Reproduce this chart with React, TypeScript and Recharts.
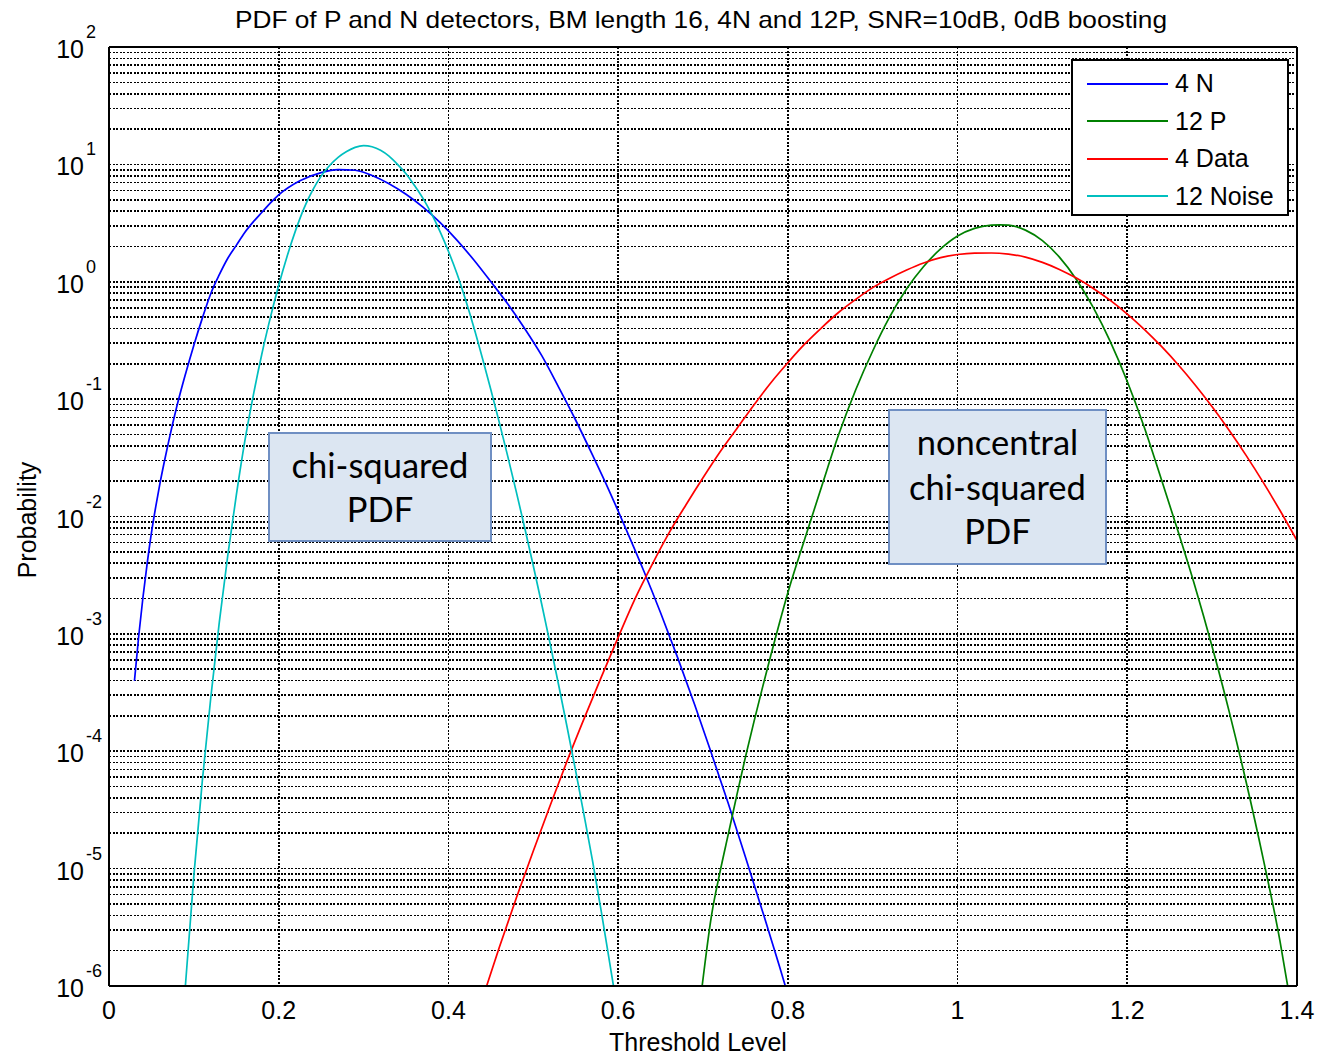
import { CartesianGrid, Line, LineChart, ReferenceLine, XAxis, YAxis } from "recharts";

// threshold level (x) and log10(probability)
const nX = [0.03, 0.035, 0.04, 0.045, 0.05, 0.055, 0.06, 0.065, 0.07, 0.075, 0.08, 0.09, 0.1, 0.11, 0.12, 0.13, 0.14, 0.15, 0.16, 0.17, 0.18, 0.19, 0.2, 0.225, 0.25, 0.27, 0.29, 0.31, 0.33, 0.35, 0.37, 0.39, 0.41, 0.43, 0.45, 0.47, 0.49, 0.51, 0.53, 0.55, 0.57, 0.59, 0.61, 0.63, 0.65, 0.67, 0.69, 0.71, 0.73, 0.75, 0.77, 0.79, 0.797];
const nLog = [-3.4, -3.02, -2.69, -2.4, -2.14, -1.92, -1.72, -1.54, -1.37, -1.21, -1.06, -0.79, -0.54, -0.31, -0.1, 0.06, 0.2, 0.31, 0.42, 0.51, 0.59, 0.67, 0.74, 0.86, 0.93, 0.955, 0.95, 0.905, 0.835, 0.745, 0.635, 0.505, 0.355, 0.185, 0.0, -0.19, -0.4, -0.63, -0.9, -1.18, -1.48, -1.79, -2.12, -2.46, -2.82, -3.2, -3.6, -4.02, -4.45, -4.9, -5.36, -5.83, -6.0];

const pX = [0.699, 0.71, 0.72, 0.73, 0.74, 0.75, 0.76, 0.77, 0.78, 0.79, 0.8, 0.82, 0.84, 0.86, 0.88, 0.9, 0.92, 0.94, 0.96, 0.98, 1.0, 1.02, 1.04, 1.05, 1.06, 1.08, 1.1, 1.12, 1.14, 1.16, 1.18, 1.2, 1.22, 1.24, 1.26, 1.28, 1.3, 1.32, 1.34, 1.36, 1.38, 1.389];
const pLog = [-6.0, -5.4, -5.03, -4.7, -4.37, -4.05, -3.75, -3.46, -3.18, -2.91, -2.65, -2.19, -1.74, -1.3, -0.92, -0.59, -0.3, -0.06, 0.13, 0.28, 0.39, 0.455, 0.482, 0.485, 0.482, 0.44, 0.35, 0.21, 0.02, -0.22, -0.51, -0.85, -1.24, -1.68, -2.13, -2.6, -3.11, -3.66, -4.26, -4.91, -5.62, -6.0];

const dataX = [0.445, 0.46, 0.48, 0.5, 0.52, 0.54, 0.56, 0.58, 0.6, 0.62, 0.64, 0.66, 0.68, 0.7, 0.72, 0.74, 0.76, 0.78, 0.8, 0.82, 0.84, 0.86, 0.88, 0.9, 0.92, 0.94, 0.96, 0.98, 1.0, 1.02, 1.04, 1.06, 1.08, 1.1, 1.12, 1.14, 1.16, 1.18, 1.2, 1.22, 1.24, 1.26, 1.28, 1.3, 1.32, 1.34, 1.36, 1.38, 1.4];
const dataLog = [-6.0, -5.67, -5.25, -4.85, -4.46, -4.08, -3.72, -3.37, -3.03, -2.7, -2.41, -2.14, -1.9, -1.67, -1.45, -1.25, -1.05, -0.86, -0.69, -0.53, -0.39, -0.26, -0.15, -0.05, 0.03, 0.1, 0.16, 0.205, 0.232, 0.244, 0.245, 0.235, 0.21, 0.165, 0.105, 0.031, -0.057, -0.159, -0.275, -0.405, -0.549, -0.707, -0.879, -1.065, -1.265, -1.479, -1.707, -1.949, -2.205];

const noiseX = [0.09, 0.1, 0.11, 0.12, 0.13, 0.14, 0.15, 0.16, 0.17, 0.18, 0.19, 0.2, 0.21, 0.22, 0.23, 0.24, 0.25, 0.26, 0.27, 0.28, 0.29, 0.3, 0.31, 0.32, 0.33, 0.34, 0.35, 0.36, 0.37, 0.38, 0.39, 0.4, 0.41, 0.42, 0.43, 0.44, 0.45, 0.46, 0.47, 0.48, 0.49, 0.5, 0.51, 0.52, 0.53, 0.54, 0.55, 0.56, 0.57, 0.58, 0.59, 0.5945];
const noiseLog = [-6.0, -5.06, -4.25, -3.54, -2.9, -2.33, -1.82, -1.36, -0.97, -0.62, -0.31, -0.03, 0.22, 0.44, 0.63, 0.78, 0.9, 0.99, 1.06, 1.11, 1.145, 1.16, 1.15, 1.12, 1.07, 1.0, 0.92, 0.82, 0.71, 0.58, 0.43, 0.26, 0.07, -0.15, -0.39, -0.65, -0.92, -1.2, -1.49, -1.79, -2.1, -2.42, -2.75, -3.09, -3.44, -3.8, -4.17, -4.55, -4.94, -5.36, -5.8, -6.0];

const xTicks = [0, 0.2, 0.4, 0.6, 0.8, 1, 1.2, 1.4];
const yTicks = [-6, -5, -4, -3, -2, -1, 0, 1, 2];
const minorK = [2, 3, 4, 5, 6, 7, 8, 9];

const toRows = (xs: number[], ys: number[]) => xs.map((x, i) => ({ x, y: ys[i] }));

const series = [
  { name: "4 N", color: "#0000ff", data: toRows(nX, nLog) },
  { name: "12 P", color: "#008000", data: toRows(pX, pLog) },
  { name: "4 Data", color: "#ff0000", data: toRows(dataX, dataLog) },
  { name: "12 Noise", color: "#00bfbf", data: toRows(noiseX, noiseLog) },
];

const FONT = "'Liberation Sans', Arial, sans-serif";
const NOTE_FONT = "Lato, 'Open Sans', sans-serif";
const GRID = { stroke: "#000", strokeDasharray: "2 1.5", strokeWidth: 1.6, shapeRendering: "crispEdges" };

const minorLines: number[] = [];
yTicks.slice(0, -1).forEach((d) => minorK.forEach((k) => minorLines.push(d + Math.log10(k))));

const YTick = ({ y, payload }: any) => (
  <g fontFamily={FONT} fill="#000">
    <text x={84} y={y + 11} fontSize={25} textAnchor="end">10</text>
    <text x={86} y={y - 9} fontSize={18}>{payload.value}</text>
  </g>
);

const XTick = ({ x, payload }: any) => (
  <text x={x} y={1019} fontSize={25} textAnchor="middle" fontFamily={FONT} fill="#000">
    {String(payload.value)}
  </text>
);

const boxStyle = {
  position: "absolute" as const,
  background: "#dce6f2",
  border: "2px solid #6f8fc3",
  boxSizing: "border-box" as const,
  display: "flex",
  alignItems: "center",
  justifyContent: "center",
  textAlign: "center" as const,
  fontFamily: NOTE_FONT,
  fontSize: 34.5,
  lineHeight: "44.5px",
  color: "#000",
};

export default function App() {
  return (
    <div style={{ position: "absolute", left: 0, top: 0, width: 1318, height: 1055, background: "#fff" }}>
      <LineChart width={1318} height={1055} margin={{ top: 47, right: 21, bottom: 29, left: 49 }}>
        <CartesianGrid {...GRID} />
        {minorLines.map((v) => (
          <ReferenceLine key={v} y={v} {...GRID} />
        ))}
        <XAxis
          type="number"
          dataKey="x"
          domain={[0, 1.4]}
          ticks={xTicks}
          axisLine={false}
          tickLine={false}
          tick={<XTick />}
          height={40}
          allowDataOverflow
        />
        <YAxis
          type="number"
          domain={[-6, 2]}
          ticks={yTicks}
          axisLine={false}
          tickLine={false}
          tick={<YTick />}
          width={60}
          allowDataOverflow
        />
        {series.map((s) => (
          <Line
            key={s.name}
            data={s.data}
            dataKey="y"
            name={s.name}
            type="monotone"
            stroke={s.color}
            strokeWidth={1.7}
            dot={false}
            isAnimationActive={false}
          />
        ))}
        <ReferenceLine x={0} stroke="#000" strokeWidth={2} />
        <ReferenceLine x={1.4} stroke="#000" strokeWidth={2} />
        <ReferenceLine y={-6} stroke="#000" strokeWidth={2} />
        <ReferenceLine y={2} stroke="#000" strokeWidth={2} />
        <text
          x={235}
          y={28}
          textLength={932}
          lengthAdjust="spacingAndGlyphs"
          fontSize={24}
          fontFamily={FONT}
          fill="#000"
        >
          PDF of P and N detectors, BM length 16, 4N and 12P, SNR=10dB, 0dB boosting
        </text>
        <text x={698} y={1051} textAnchor="middle" fontSize={25} fontFamily={FONT} fill="#000">
          Threshold Level
        </text>
        <text
          x={36}
          y={520}
          transform="rotate(-90 36 520)"
          textAnchor="middle"
          fontSize={25}
          fontFamily={FONT}
          fill="#000"
        >
          Probability
        </text>
      </LineChart>

      <div
        style={{
          position: "absolute",
          left: 1071,
          top: 59,
          width: 218,
          height: 157,
          boxSizing: "border-box",
          border: "2px solid #000",
          background: "#fff",
          paddingTop: 4,
        }}
      >
        {series.map((s) => (
          <div key={s.name} style={{ display: "flex", alignItems: "center", height: 37.5 }}>
            <span style={{ marginLeft: 14, width: 81, height: 2, background: s.color }} />
            <span style={{ marginLeft: 7, fontFamily: FONT, fontSize: 25, color: "#000" }}>{s.name}</span>
          </div>
        ))}
      </div>

      <div style={{ ...boxStyle, left: 268, top: 432, width: 224, height: 110 }}>
        chi-squared
        <br />
        PDF
      </div>
      <div style={{ ...boxStyle, left: 888, top: 409, width: 219, height: 156 }}>
        noncentral
        <br />
        chi-squared
        <br />
        PDF
      </div>
    </div>
  );
}
